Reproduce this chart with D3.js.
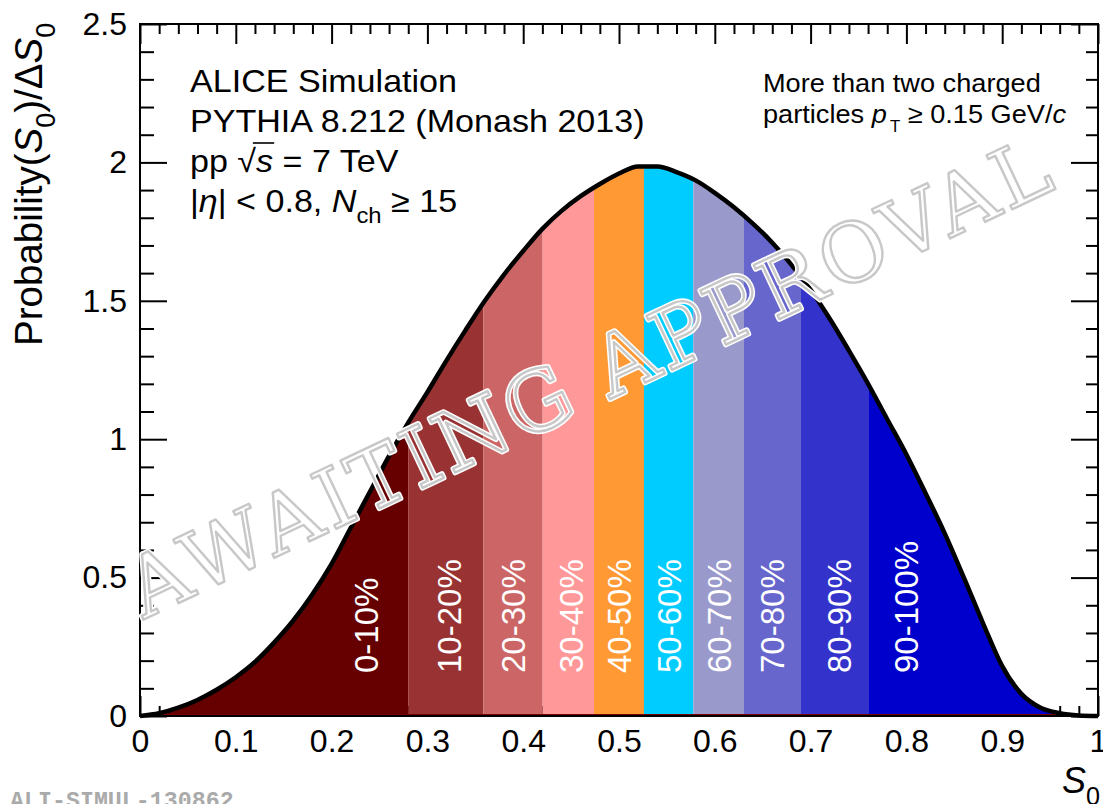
<!DOCTYPE html>
<html>
<head>
<meta charset="utf-8">
<script src="https://cdn.jsdelivr.net/npm/d3@7"></script>
<style>
  body { margin: 0; background: #fff; }
  svg { display: block; }
</style>
</head>
<body>
<svg id="chart" width="1103" height="804"></svg>
<script>
// Spherocity S0 distribution, PYTHIA 8.212 pp 7 TeV, Nch >= 15
const s0 = [0.00, 0.02, 0.04, 0.06, 0.08, 0.10, 0.12, 0.14, 0.16, 0.18,
            0.20, 0.22, 0.24, 0.26, 0.28, 0.30, 0.32, 0.34, 0.36, 0.38,
            0.40, 0.42, 0.44, 0.46, 0.48, 0.50, 0.52, 0.54, 0.56, 0.58,
            0.60, 0.62, 0.64, 0.66, 0.68, 0.70, 0.72, 0.74, 0.76, 0.78,
            0.80, 0.82, 0.84, 0.86, 0.88, 0.90, 0.92, 0.94, 0.96, 0.98, 1.00];
const prob = [0.000, 0.010, 0.030, 0.058, 0.095, 0.140, 0.195, 0.265, 0.345, 0.440,
              0.550, 0.680, 0.810, 0.940, 1.060, 1.170, 1.285, 1.395, 1.500, 1.595,
              1.680, 1.760, 1.825, 1.878, 1.922, 1.960, 1.985, 1.985, 1.965, 1.935,
              1.890, 1.838, 1.778, 1.710, 1.630, 1.540, 1.435, 1.320, 1.200, 1.072,
              0.945, 0.805, 0.660, 0.500, 0.335, 0.180, 0.080, 0.030, 0.010, 0.002, 0.000];

// Spherocity classes (percentiles of the distribution)
const classNames = ["0-10%", "10-20%", "20-30%", "30-40%", "40-50%",
                    "50-60%", "60-70%", "70-80%", "80-90%", "90-100%"];
const classEdges = [0, 0.280, 0.3585, 0.4203, 0.474, 0.526, 0.5776, 0.6305, 0.690, 0.761, 1.0];
const classColors = ["#660000", "#993333", "#cc6666", "#ff9999", "#ff9933",
                     "#00ccff", "#9999cc", "#6666cc", "#3333cc", "#0000cc"];

// Axis ticks
const xMajor = [0, 0.1, 0.2, 0.3, 0.4, 0.5, 0.6, 0.7, 0.8, 0.9, 1];
const xTickLabels = ["0", "0.1", "0.2", "0.3", "0.4", "0.5", "0.6", "0.7", "0.8", "0.9", "1"];
const yMajor = [0, 0.5, 1, 1.5, 2, 2.5];
const yTickLabels = ["0", "0.5", "1", "1.5", "2", "2.5"];

// Layout
const L = 140, R = 1098, T = 24, B = 716;
const FONT = "'Liberation Sans', Arial, Helvetica, sans-serif";
const MONO = "'Liberation Mono', 'Courier New', monospace";
const labelAt = [0.236, 0.323, 0.389, 0.450, 0.500, 0.552, 0.604, 0.660, 0.730, 0.800];

const svg = d3.select("#chart");
const x = d3.scaleLinear().domain([0, 1]).range([L, R]);
const y = d3.scaleLinear().domain([0, 2.5]).range([B, T]);

const xMinor = d3.range(0, 1.0001, 0.02).filter(v => Math.abs(v * 10 - Math.round(v * 10)) > 1e-6);
const yMinor = d3.range(0, 2.5001, 0.1).filter(v => Math.abs(v * 2 - Math.round(v * 2)) > 1e-6);

function styleAxis(g) {
  g.select(".domain").remove();
  g.selectAll(".tick line").attr("stroke", "#000").attr("stroke-width", 2);
  g.selectAll("text").attr("font-family", FONT).attr("font-size", 32).attr("fill", "#000");
}

const axes = svg.append("g");
// bottom
axes.append("g").attr("transform", `translate(0,${B})`)
  .call(d3.axisBottom(x).tickValues(xMajor).tickSize(-20).tickSizeOuter(0).tickPadding(13)
        .tickFormat((d, i) => xTickLabels[i]))
  .call(styleAxis);
axes.append("g").attr("transform", `translate(0,${B})`)
  .call(d3.axisBottom(x).tickValues(xMinor).tickSize(-10).tickSizeOuter(0).tickFormat(""))
  .call(styleAxis);
// top
axes.append("g").attr("transform", `translate(0,${T})`)
  .call(d3.axisTop(x).tickValues(xMajor).tickSize(-20).tickSizeOuter(0).tickFormat(""))
  .call(styleAxis);
axes.append("g").attr("transform", `translate(0,${T})`)
  .call(d3.axisTop(x).tickValues(xMinor).tickSize(-10).tickSizeOuter(0).tickFormat(""))
  .call(styleAxis);
// left
axes.append("g").attr("transform", `translate(${L},0)`)
  .call(d3.axisLeft(y).tickValues(yMajor).tickSize(-27).tickSizeOuter(0).tickPadding(13)
        .tickFormat((d, i) => yTickLabels[i]))
  .call(styleAxis);
axes.append("g").attr("transform", `translate(${L},0)`)
  .call(d3.axisLeft(y).tickValues(yMinor).tickSize(-14).tickSizeOuter(0).tickFormat(""))
  .call(styleAxis);
// right
axes.append("g").attr("transform", `translate(${R},0)`)
  .call(d3.axisRight(y).tickValues(yMajor).tickSize(-27).tickSizeOuter(0).tickFormat(""))
  .call(styleAxis);
axes.append("g").attr("transform", `translate(${R},0)`)
  .call(d3.axisRight(y).tickValues(yMinor).tickSize(-12).tickSizeOuter(0).tickFormat(""))
  .call(styleAxis);

// Histogram fills, one clipped copy per spherocity class
const pts = s0.map((v, i) => [v, prob[i]]);
const area = d3.area().x(d => x(d[0])).y0(y(0)).y1(d => y(d[1])).curve(d3.curveMonotoneX);
const line = d3.line().x(d => x(d[0])).y(d => y(d[1])).curve(d3.curveMonotoneX);

const defs = svg.append("defs");
classNames.forEach((name, i) => {
  defs.append("clipPath").attr("id", "cls" + i)
    .append("rect")
    .attr("x", x(classEdges[i])).attr("y", T)
    .attr("width", x(classEdges[i + 1]) - x(classEdges[i]))
    .attr("height", B - T);
  svg.append("path").datum(pts)
    .attr("clip-path", `url(#cls${i})`)
    .attr("d", area)
    .attr("fill", classColors[i]);
});

// baseline of the filled histogram
svg.append("line").attr("x1", L).attr("x2", R).attr("y1", B - 1).attr("y2", B - 1)
  .attr("stroke", "#7a0000").attr("stroke-width", 2);

// histogram outline (statistical errors)
svg.append("path").datum(pts).attr("d", line)
  .attr("fill", "none").attr("stroke", "#000").attr("stroke-width", 4.5)
  .attr("stroke-linejoin", "round");

// Class labels
classNames.forEach((name, i) => {
  svg.append("text")
    .attr("transform", `translate(${x(labelAt[i])},673) rotate(-90)`)
    .attr("dy", "0.36em")
    .attr("font-family", FONT).attr("font-size", 33).attr("fill", "#fff")
    .text(name);
});

// frame
svg.append("rect").attr("x", L).attr("y", T).attr("width", R - L).attr("height", B - T)
  .attr("fill", "none").attr("stroke", "#000").attr("stroke-width", 2);

// Rich-text helper: parts are {t, i (italic), sub (subscript)}
function rich(textSel, parts, fs) {
  let shift = 0;
  parts.forEach(p => {
    const ts = textSel.append("tspan").text(p.t);
    const target = p.sub ? fs * 0.33 : 0;
    if (target !== shift) { ts.attr("dy", target - shift); shift = target; }
    if (p.i) ts.attr("font-style", "italic");
    if (p.sub) ts.attr("font-size", fs * (p.subScale || 0.7));
    if (p.dx) ts.attr("dx", p.dx);
  });
  return textSel;
}

// Top-left annotation
const info = svg.append("g").attr("transform", "translate(190,0) scale(1.065,1)")
  .attr("font-family", FONT).attr("font-size", 32).attr("fill", "#000");
info.append("text").attr("x", 0).attr("y", 92).text("ALICE Simulation");
info.append("text").attr("x", 0).attr("y", 132).text("PYTHIA 8.212 (Monash 2013)");
const ppText = info.append("text").attr("x", 0).attr("y", 172);
rich(ppText, [{t: "pp  \u221A"}, {t: "s", i: true}, {t: " = 7 TeV"}], 32);
{
  const node = ppText.node();
  const rootEnd = node.getEndPositionOfChar(3).x;
  const sEnd = node.getEndPositionOfChar(4).x;
  info.append("line").attr("x1", rootEnd - 3).attr("x2", sEnd + 1)
    .attr("y1", 143).attr("y2", 143).attr("stroke", "#000").attr("stroke-width", 1.6);
}
rich(info.append("text").attr("x", 0).attr("y", 212),
  [{t: "|"}, {t: "\u03B7", i: true}, {t: "| < 0.8, "}, {t: "N", i: true}, {t: "ch", sub: true}, {t: " \u2265 15"}], 32);

// Top-right annotation
const cut = svg.append("g").attr("transform", "translate(763,0) scale(1.045,1)")
  .attr("font-family", FONT).attr("font-size", 26).attr("fill", "#000");
cut.append("text").attr("x", 0).attr("y", 92).text("More than two charged");
rich(cut.append("text").attr("x", 0).attr("y", 123),
  [{t: "particles "}, {t: "p", i: true}, {t: "T", sub: true, subScale: 0.62, dx: 3}, {t: " \u2265 0.15 GeV/"}, {t: "c", i: true}], 26);

// Axis titles
rich(svg.append("text").attr("transform", "translate(42,346) rotate(-90)")
  .attr("font-family", FONT).attr("font-size", 38.5).attr("fill", "#000"),
  [{t: "Probability("}, {t: "S", i: true}, {t: "0", sub: true}, {t: ")/\u0394"}, {t: "S", i: true}, {t: "0", sub: true}], 38.5);

rich(svg.append("text").attr("x", 1100).attr("y", 793).attr("text-anchor", "end")
  .attr("font-family", FONT).attr("font-size", 36).attr("fill", "#000"),
  [{t: "S", i: true}, {t: "0", sub: true}], 36);

// Figure identifier
svg.append("text").attr("x", 10).attr("y", 808)
  .attr("font-family", MONO).attr("font-weight", "bold")
  .attr("font-size", 23.3).attr("fill", "#aaaaaa")
  .text("ALI-SIMUL-130862");

// Stamp: hollow slab-serif lettering
const stamp = svg.append("g").attr("transform", "translate(588,377) rotate(-25.3)");
["#ffffff", "#c8c8c8"].forEach((c, k) => {
  stamp.append("text").attr("x", -505).attr("dy", "0.36em")
    .attr("textLength", 1010).attr("lengthAdjust", "spacing")
    .attr("font-family", "'DejaVu Serif', serif")
    .attr("font-size", 82).attr("fill", "none")
    .attr("stroke", c).attr("stroke-width", k === 0 ? 5.5 : 2.4).attr("stroke-linejoin", "round")
    .text("AWAITING APPROVAL");
});
</script>
</body>
</html>
